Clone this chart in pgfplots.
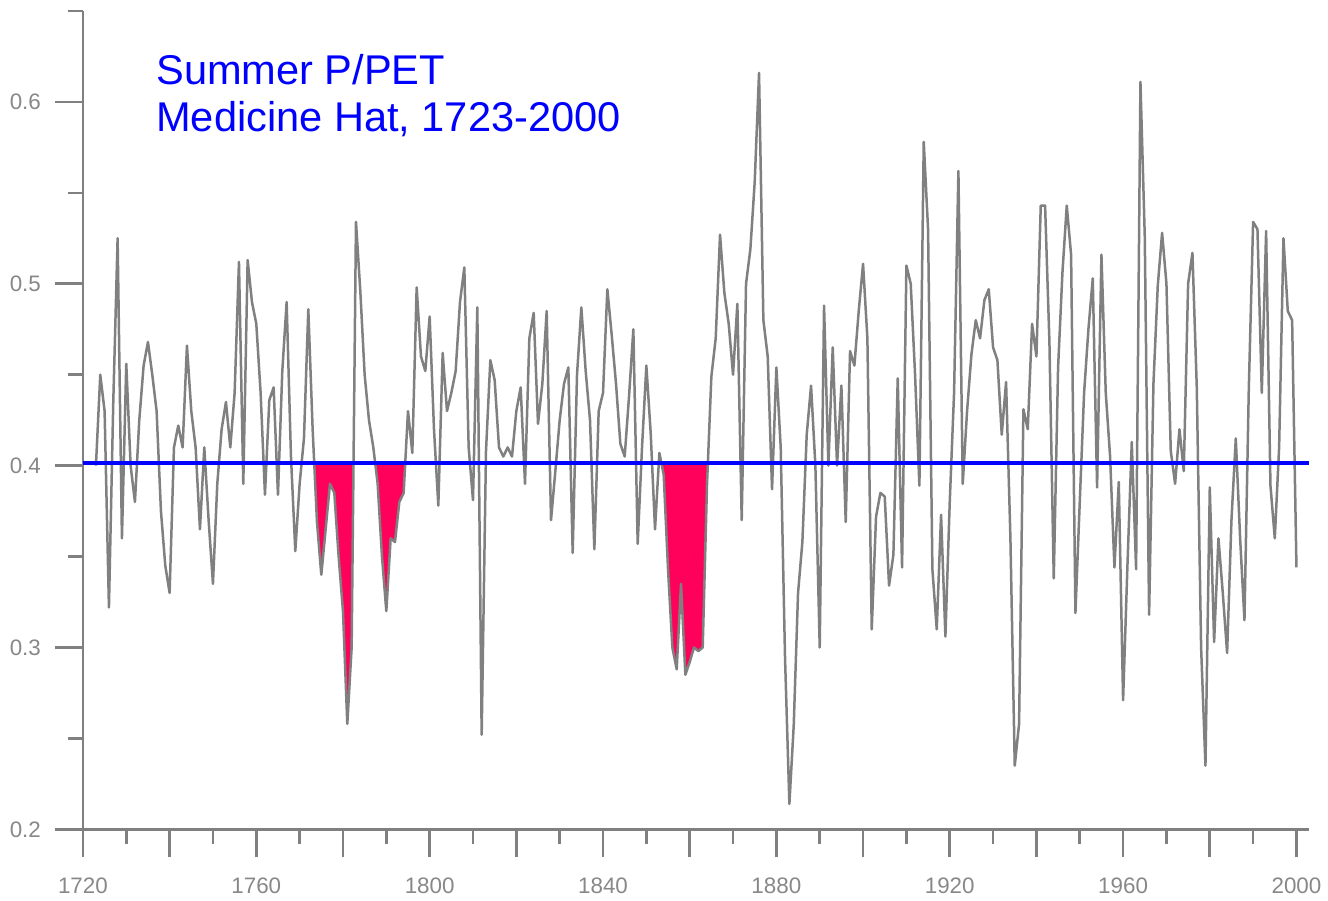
\documentclass[border=0pt]{standalone}
\usepackage{fontspec}
\setmainfont{Liberation Sans}
\usepackage{pgfplots}
\usepackage{pgfplotstable}
\pgfplotsset{compat=1.18}
\usepgfplotslibrary{fillbetween}

\definecolor{axisgray}{RGB}{128,128,128}
\definecolor{labelgray}{RGB}{136,136,136}
\definecolor{linegray}{RGB}{128,128,128}
\definecolor{drought}{RGB}{255,0,90}
\definecolor{titleblue}{RGB}{0,0,255}

% Reconstructed summer precipitation / potential evapotranspiration ratio
\pgfplotstableread{
year ppet
1723 0.400
1724 0.450
1725 0.430
1726 0.322
1727 0.435
1728 0.525
1729 0.360
1730 0.456
1731 0.400
1732 0.380
1733 0.425
1734 0.455
1735 0.468
1736 0.450
1737 0.430
1738 0.375
1739 0.345
1740 0.330
1741 0.410
1742 0.422
1743 0.410
1744 0.466
1745 0.430
1746 0.410
1747 0.365
1748 0.410
1749 0.370
1750 0.335
1751 0.390
1752 0.420
1753 0.435
1754 0.410
1755 0.440
1756 0.512
1757 0.390
1758 0.513
1759 0.490
1760 0.478
1761 0.440
1762 0.384
1763 0.436
1764 0.443
1765 0.384
1766 0.452
1767 0.490
1768 0.405
1769 0.353
1770 0.390
1771 0.415
1772 0.486
1773 0.420
1774 0.369
1775 0.340
1776 0.365
1777 0.390
1778 0.385
1779 0.350
1780 0.320
1781 0.258
1782 0.300
1783 0.534
1784 0.496
1785 0.450
1786 0.425
1787 0.410
1788 0.390
1789 0.350
1790 0.320
1791 0.360
1792 0.358
1793 0.380
1794 0.385
1795 0.430
1796 0.407
1797 0.498
1798 0.460
1799 0.452
1800 0.482
1801 0.420
1802 0.378
1803 0.462
1804 0.430
1805 0.440
1806 0.452
1807 0.490
1808 0.509
1809 0.410
1810 0.381
1811 0.487
1812 0.252
1813 0.408
1814 0.458
1815 0.447
1816 0.410
1817 0.405
1818 0.410
1819 0.405
1820 0.430
1821 0.443
1822 0.390
1823 0.470
1824 0.484
1825 0.423
1826 0.445
1827 0.485
1828 0.370
1829 0.397
1830 0.425
1831 0.445
1832 0.454
1833 0.352
1834 0.450
1835 0.487
1836 0.452
1837 0.425
1838 0.354
1839 0.430
1840 0.440
1841 0.497
1842 0.472
1843 0.445
1844 0.412
1845 0.405
1846 0.438
1847 0.475
1848 0.357
1849 0.410
1850 0.455
1851 0.418
1852 0.365
1853 0.407
1854 0.395
1855 0.343
1856 0.300
1857 0.288
1858 0.335
1859 0.285
1860 0.292
1861 0.300
1862 0.298
1863 0.300
1864 0.390
1865 0.449
1866 0.470
1867 0.527
1868 0.495
1869 0.478
1870 0.450
1871 0.489
1872 0.370
1873 0.500
1874 0.519
1875 0.556
1876 0.616
1877 0.480
1878 0.460
1879 0.387
1880 0.454
1881 0.410
1882 0.294
1883 0.214
1884 0.257
1885 0.330
1886 0.358
1887 0.417
1888 0.444
1889 0.400
1890 0.300
1891 0.488
1892 0.400
1893 0.465
1894 0.400
1895 0.444
1896 0.369
1897 0.463
1898 0.455
1899 0.485
1900 0.511
1901 0.470
1902 0.310
1903 0.372
1904 0.385
1905 0.383
1906 0.334
1907 0.351
1908 0.448
1909 0.344
1910 0.510
1911 0.500
1912 0.450
1913 0.389
1914 0.578
1915 0.530
1916 0.343
1917 0.310
1918 0.373
1919 0.306
1920 0.380
1921 0.440
1922 0.562
1923 0.390
1924 0.430
1925 0.461
1926 0.480
1927 0.470
1928 0.491
1929 0.497
1930 0.465
1931 0.458
1932 0.417
1933 0.446
1934 0.360
1935 0.235
1936 0.258
1937 0.431
1938 0.420
1939 0.478
1940 0.460
1941 0.543
1942 0.543
1943 0.468
1944 0.338
1945 0.454
1946 0.506
1947 0.543
1948 0.516
1949 0.319
1950 0.380
1951 0.440
1952 0.475
1953 0.503
1954 0.388
1955 0.516
1956 0.440
1957 0.405
1958 0.344
1959 0.391
1960 0.271
1961 0.345
1962 0.413
1963 0.343
1964 0.611
1965 0.526
1966 0.318
1967 0.445
1968 0.499
1969 0.528
1970 0.500
1971 0.408
1972 0.390
1973 0.420
1974 0.397
1975 0.500
1976 0.517
1977 0.443
1978 0.300
1979 0.235
1980 0.388
1981 0.303
1982 0.360
1983 0.330
1984 0.297
1985 0.370
1986 0.415
1987 0.360
1988 0.315
1989 0.442
1990 0.534
1991 0.530
1992 0.440
1993 0.529
1994 0.389
1995 0.360
1996 0.410
1997 0.525
1998 0.485
1999 0.480
2000 0.344
}\ppet

\begin{document}
\begin{tikzpicture}
\begin{axis}[
  at={(41.5pt,34pt)}, anchor=south west,
  scale only axis, width=613.75pt, height=409.5pt,
  xmin=1720, xmax=2003, ymin=0.2, ymax=0.65,
  axis lines=left,
  axis line style={-, line width=1.3pt, color=axisgray},
  xtick={1720,1760,...,2000},
  xticklabels={1720,1760,1800,1840,1880,1920,1960,2000},
  extra x ticks={1740,1780,1820,1860,1900,1940,1980},
  extra x tick labels={},
  minor xtick={1730,1750,...,1990},
  ytick={0.2,0.3,0.4,0.5,0.6},
  yticklabels={0.2,0.3,0.4,0.5,0.6},
  minor ytick={0.25,0.35,0.45,0.55,0.65},
  tick align=outside,
  major tick length=14pt, minor tick length=7.5pt,
  tick style={line width=1.3pt, color=axisgray},
  tick label style={font=\fontsize{11.2}{13}\selectfont, text=labelgray},
  xticklabel style={yshift=-7pt},
  yticklabel style={xshift=-3.5pt},
  /pgf/number format/assume math mode=true,
]
% paths used for the shaded dry spells
\addplot[draw=none, name path=series, forget plot] table[x=year, y=ppet]{\ppet};
\addplot[draw=none, name path=mean, forget plot] coordinates {(1720,0.4016) (2003,0.4016)};
\addplot[drought, draw=none] fill between[of=series and mean, soft clip={domain=1773.36:1782.43}];
\addplot[drought, draw=none] fill between[of=series and mean, soft clip={domain=1787.42:1794.37}];
\addplot[drought, draw=none] fill between[of=series and mean, soft clip={domain=1853.45:1864.2}];
% annual series
\addplot[linegray, line width=1.25pt, line join=round] table[x=year, y=ppet]{\ppet};
% long-term mean
\addplot[titleblue, line width=2.2pt] coordinates {(1720,0.4016) (2003,0.4016)};
\end{axis}
\node[anchor=base west, inner sep=0pt, text=titleblue, font=\fontsize{20.8}{24}\selectfont] at (78pt,406.5pt) {Summer P/PET};
\node[anchor=base west, inner sep=0pt, text=titleblue, font=\fontsize{20.8}{24}\selectfont] at (78pt,383pt) {Medicine Hat, 1723-2000};
% page frame
\path (0,0) rectangle (664pt,449pt);
\end{tikzpicture}
\end{document}
